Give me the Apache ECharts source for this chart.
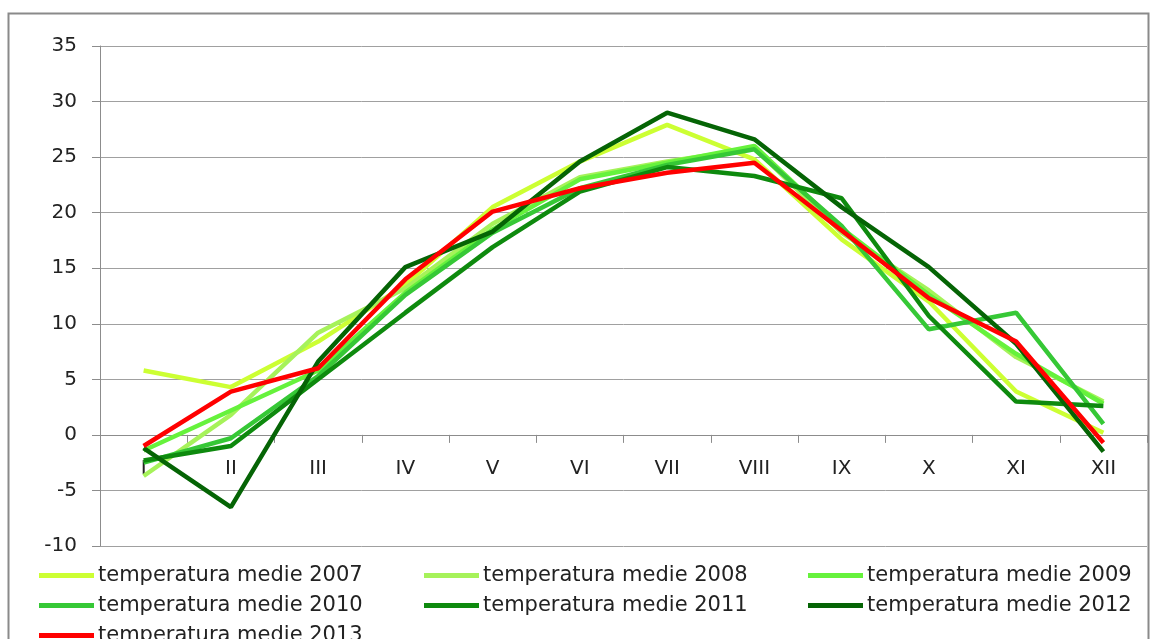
<!DOCTYPE html>
<html>
<head>
<meta charset="utf-8">
<script src="https://cdn.jsdelivr.net/npm/echarts@6/dist/echarts.min.js"></script>
<style>
  html, body { margin: 0; padding: 0; background: #fff; }
  #chart { width: 1154px; height: 639px; }
</style>
</head>
<body>
<div id="chart"></div>
<script>
// categorie (luni)
const months = ['I', 'II', 'III', 'IV', 'V', 'VI', 'VII', 'VIII', 'IX', 'X', 'XI', 'XII'];

// temperaturi medii lunare
const t2007 = [5.8, 4.3, 8.4, 13.5, 20.5, 24.6, 27.9, 24.8, 17.6, 12.0, 3.9, 0.2];
const t2008 = [-3.7, 1.8, 9.2, 13.2, 19.0, 23.2, 24.6, 25.8, 18.2, 13.0, 7.0, 3.0];
const t2009 = [-1.4, 2.2, 5.8, 12.8, 18.5, 23.0, 24.5, 26.0, 18.6, 12.6, 7.3, 2.8];
const t2010 = [-2.5, -0.3, 5.3, 12.6, 18.2, 22.2, 24.3, 25.7, 18.8, 9.5, 11.0, 1.0];
const t2011 = [-2.3, -1.0, 5.0, 11.0, 16.9, 21.9, 24.1, 23.3, 21.3, 10.7, 3.0, 2.6];
const t2012 = [-1.2, -6.5, 6.6, 15.1, 18.3, 24.6, 29.0, 26.6, 20.5, 15.1, 8.2, -1.5];
const t2013 = [-1.0, 3.9, 6.0, 14.0, 20.1, 22.2, 23.6, 24.5, 18.4, 12.3, 8.4, -0.7];

// axa y
const yMin = -10;
const yMax = 35;
const yStep = 5;

const chart = echarts.init(document.getElementById('chart'));

const font = 'DejaVu Sans, sans-serif';
const seriesDef = [
  { name: 'temperatura medie 2007', data: t2007, color: '#CCFF33' },
  { name: 'temperatura medie 2008', data: t2008, color: '#A6F25A' },
  { name: 'temperatura medie 2009', data: t2009, color: '#66F23C' },
  { name: 'temperatura medie 2010', data: t2010, color: '#36C836' },
  { name: 'temperatura medie 2011', data: t2011, color: '#0E8A0E' },
  { name: 'temperatura medie 2012', data: t2012, color: '#056405' },
  { name: 'temperatura medie 2013', data: t2013, color: '#FF0000' }
];

// legenda pe 3 coloane
function legendCol(left, names) {
  return {
    orient: 'vertical',
    left: left,
    top: 560,
    height: 120,
    icon: 'rect',
    itemWidth: 55,
    itemHeight: 5,
    itemGap: 9,
    selectedMode: false,
    textStyle: {
      fontFamily: font,
      fontSize: 21,
      lineHeight: 21,
      color: '#222',
      padding: [0, 0, 0, -1]
    },
    data: names
  };
}

chart.setOption({
  animation: false,
  backgroundColor: '#fff',
  graphic: [
    {
      type: 'rect',
      shape: { x: 8.5, y: 13.5, width: 1140, height: 700 },
      style: { fill: 'none', stroke: '#8a8a8a', lineWidth: 2 },
      silent: true
    }
  ],
  legend: [
    legendCol(34, [seriesDef[0].name, seriesDef[3].name, seriesDef[6].name]),
    legendCol(419, [seriesDef[1].name, seriesDef[4].name]),
    legendCol(803, [seriesDef[2].name, seriesDef[5].name])
  ],
  grid: {
    left: 100,
    right: 7,
    top: 46,
    bottom: 93,
    containLabel: false
  },
  xAxis: {
    type: 'category',
    data: months,
    boundaryGap: true,
    axisLine: { onZero: true, lineStyle: { color: '#8c8c8c', width: 1 } },
    axisTick: { show: true, length: 8, lineStyle: { color: '#8c8c8c' } },
    axisLabel: {
      fontFamily: font,
      fontSize: 20,
      color: '#222',
      // etichetele stau sub linia de zero, nu jos
      margin: -87
    }
  },
  yAxis: {
    type: 'value',
    min: yMin,
    max: yMax,
    interval: yStep,
    axisLine: { show: true, lineStyle: { color: '#8c8c8c', width: 1 } },
    axisTick: { show: true, length: 8, lineStyle: { color: '#8c8c8c' } },
    axisLabel: {
      fontFamily: font,
      fontSize: 20,
      color: '#222',
      margin: 23
    },
    splitLine: { lineStyle: { color: '#a0a0a0', width: 1 } }
  },
  series: seriesDef.map(s => ({
    name: s.name,
    type: 'line',
    data: s.data,
    symbol: 'none',
    color: s.color,
    lineStyle: { color: s.color, width: 4.5 }
  }))
});
</script>
</body>
</html>
